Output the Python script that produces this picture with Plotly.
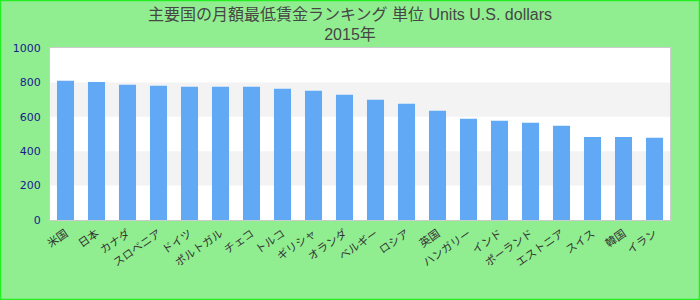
import plotly.graph_objects as go

categories = ["米国", "日本", "カナダ", "スロベニア", "ドイツ", "ポルトガル", "チェコ", "トルコ",
              "ギリシャ", "オランダ", "ベルギー", "ロシア", "英国", "ハンガリー", "インド",
              "ポーランド", "エストニア", "スイス", "韓国", "イラン"]
values = [809, 803, 786, 780, 775, 774, 774, 763, 751, 728, 699, 676, 635, 588, 577, 565, 548, 483, 483, 478]
title_line1 = "主要国の月額最低賃金ランキング 単位 Units U.S. dollars"
title_line2 = "2015年"
y_ticks = [0, 200, 400, 600, 800, 1000]
bands = [(200, 400), (600, 800)]

fig = go.Figure()
fig.add_trace(go.Bar(x=categories, y=values, marker=dict(color="#62a9f5", line=dict(width=0)),
                     hoverinfo="x+y"))

shapes = []
for lo, hi in bands:
    shapes.append(dict(type="rect", xref="paper", yref="y", x0=0, x1=1, y0=lo, y1=hi,
                       fillcolor="#f3f3f3", line=dict(width=0), layer="below"))
# page border (paper coordinates extended to page edges)
L, R, T, B = 50, 30, 48, 80
W, H = 700, 300
pw, ph = W - L - R, H - T - B
def px(x): return (x - L) / pw
def py(y): return (H - B - y) / ph
shapes.append(dict(type="rect", xref="paper", yref="paper", x0=px(0.5), x1=px(W - 0.5),
                   y0=py(0.5), y1=py(H - 0.5), line=dict(color="#22ee22", width=1.5),
                   fillcolor="rgba(0,0,0,0)", layer="above"))

fig.update_layout(
    width=W, height=H,
    margin=dict(l=L, r=R, t=T, b=B),
    paper_bgcolor="#90ee90",
    plot_bgcolor="#ffffff",
    title=dict(text=title_line1 + "<br>" + title_line2, x=0.5, xanchor="center", xref="container",
               y=0.935, yanchor="top", yref="container",
               font=dict(family="Liberation Sans, Noto Sans CJK JP, sans-serif", size=16, color="#464646")),
    bargap=0.45,
    showlegend=False,
    shapes=shapes,
    font=dict(family="Noto Sans CJK JP, DejaVu Sans, sans-serif"),
)
fig.update_xaxes(showgrid=False, showline=True, linecolor="#cccccc", linewidth=1, mirror=True,
                 ticks="", tickangle=-35, tickfont=dict(size=11, color="#333333",
                 family="Noto Sans CJK JP, sans-serif"), ticklabelstandoff=2)
fig.update_yaxes(range=[0, 1000], tickvals=y_ticks, showgrid=False, zeroline=False,
                 showline=True, linecolor="#cccccc", linewidth=1, mirror=True, ticks="",
                 tickfont=dict(size=11, color="#1a1a8c", family="DejaVu Sans, sans-serif"),
                 ticklabelstandoff=6)

fig.write_html("out.html")
